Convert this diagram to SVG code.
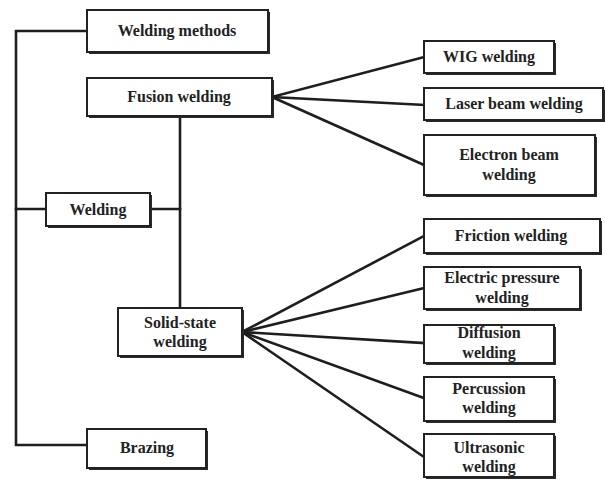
<svg xmlns="http://www.w3.org/2000/svg" width="605" height="480" viewBox="0 0 605 480">
  <style>
    .box { fill: #ffffff; stroke: #222; stroke-width: 2; }
    .shadow { fill: #2a2a2a; }
    .lbl { font-family: "Liberation Serif", "Times New Roman", serif; font-weight: bold; font-size: 16px; fill: #222; text-anchor: middle; }
    .wire { stroke: #1e1e1e; stroke-width: 2.6; fill: none; stroke-linecap: square; }
  </style>
  <rect width="605" height="480" fill="#ffffff"/>

  <!-- connectors -->
  <g id="connectors">
    <polyline class="wire" points="87,31 16,31 16,445 87,445"/>
    <line class="wire" x1="16" y1="209" x2="46" y2="209"/>
    <line class="wire" x1="150" y1="209" x2="180" y2="209"/>
    <line class="wire" x1="180" y1="116" x2="180" y2="308"/>
    <!-- fusion welding fan -->
    <line class="wire" x1="272" y1="97" x2="424" y2="57"/>
    <line class="wire" x1="272" y1="97" x2="424" y2="105"/>
    <line class="wire" x1="272" y1="97" x2="424" y2="165"/>
    <!-- solid-state welding fan -->
    <line class="wire" x1="242" y1="332" x2="424" y2="236"/>
    <line class="wire" x1="242" y1="332" x2="424" y2="288"/>
    <line class="wire" x1="242" y1="332" x2="424" y2="343"/>
    <line class="wire" x1="242" y1="332" x2="424" y2="398"/>
    <line class="wire" x1="242" y1="332" x2="424" y2="457"/>
  </g>

  <g id="welding-methods">
    <rect class="shadow" x="89" y="12" width="181" height="42"/>
    <rect class="box" x="87" y="10" width="181" height="42"/>
    <text class="lbl" x="177" y="36">Welding methods</text>
  </g>

  <g id="fusion-welding">
    <rect class="shadow" x="89" y="80" width="185" height="38"/>
    <rect class="box" x="87" y="78" width="185" height="38"/>
    <text class="lbl" x="179" y="102">Fusion welding</text>
  </g>

  <g id="welding">
    <rect class="shadow" x="48" y="195" width="104" height="33"/>
    <rect class="box" x="46" y="193" width="104" height="33"/>
    <text class="lbl" x="98" y="215">Welding</text>
  </g>

  <g id="solid-state-welding">
    <rect class="shadow" x="120" y="310" width="124" height="48"/>
    <rect class="box" x="118" y="308" width="124" height="48"/>
    <text class="lbl" x="180" y="328">Solid-state</text>
    <text class="lbl" x="180" y="347">welding</text>
  </g>

  <g id="brazing">
    <rect class="shadow" x="89" y="431" width="119" height="39"/>
    <rect class="box" x="87" y="429" width="119" height="39"/>
    <text class="lbl" x="147" y="453">Brazing</text>
  </g>

  <g id="wig-welding">
    <rect class="shadow" x="426" y="43" width="130" height="32"/>
    <rect class="box" x="424" y="41" width="130" height="32"/>
    <text class="lbl" x="489" y="62">WIG welding</text>
  </g>

  <g id="laser-beam-welding">
    <rect class="shadow" x="426" y="90" width="179" height="32"/>
    <rect class="box" x="424" y="88" width="179" height="32"/>
    <text class="lbl" x="514" y="109">Laser beam welding</text>
  </g>

  <g id="electron-beam-welding">
    <rect class="shadow" x="426" y="137" width="171" height="60"/>
    <rect class="box" x="424" y="135" width="171" height="60"/>
    <text class="lbl" x="509" y="160">Electron beam</text>
    <text class="lbl" x="509" y="180">welding</text>
  </g>

  <g id="friction-welding">
    <rect class="shadow" x="426" y="221" width="176" height="34"/>
    <rect class="box" x="424" y="219" width="176" height="34"/>
    <text class="lbl" x="511" y="241">Friction welding</text>
  </g>

  <g id="electric-pressure-welding">
    <rect class="shadow" x="426" y="269" width="156" height="42"/>
    <rect class="box" x="424" y="267" width="156" height="42"/>
    <text class="lbl" x="502" y="283">Electric pressure</text>
    <text class="lbl" x="502" y="303">welding</text>
  </g>

  <g id="diffusion-welding">
    <rect class="shadow" x="426" y="327" width="130" height="38"/>
    <rect class="box" x="424" y="325" width="130" height="38"/>
    <text class="lbl" x="489" y="338">Diffusion</text>
    <text class="lbl" x="489" y="358">welding</text>
  </g>

  <g id="percussion-welding">
    <rect class="shadow" x="426" y="379" width="130" height="44"/>
    <rect class="box" x="424" y="377" width="130" height="44"/>
    <text class="lbl" x="489" y="394">Percussion</text>
    <text class="lbl" x="489" y="413">welding</text>
  </g>

  <g id="ultrasonic-welding">
    <rect class="shadow" x="426" y="436" width="130" height="43"/>
    <rect class="box" x="424" y="434" width="130" height="43"/>
    <text class="lbl" x="489" y="453">Ultrasonic</text>
    <text class="lbl" x="489" y="472">welding</text>
  </g>
</svg>
